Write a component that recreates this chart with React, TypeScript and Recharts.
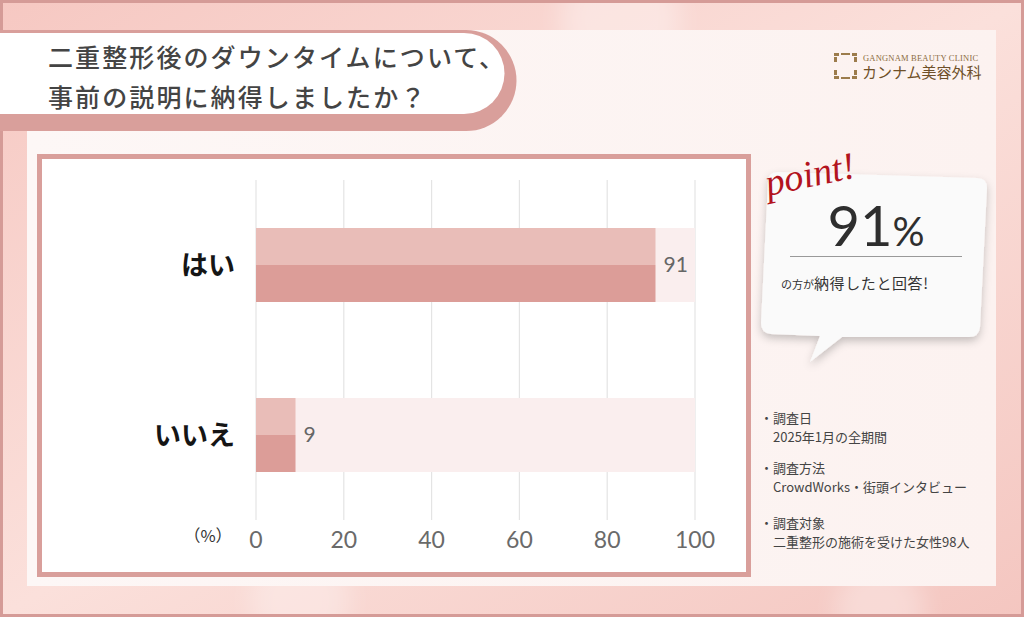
import React from 'react';
import { BarChart, Bar, XAxis, YAxis, CartesianGrid, LabelList } from 'recharts';

const categories = ['はい', 'いいえ'];
const values = [91, 9];
const xTicks = [0, 20, 40, 60, 80, 100];
const titleLines = ['二重整形後のダウンタイムについて、', '事前の説明に納得しましたか？'];
const notes = [
  ['調査日', '2025年1月の全期間'],
  ['調査方法', 'CrowdWorks・街頭インタビュー'],
  ['調査対象', '二重整形の施術を受けた女性98人'],
];
const pointValue = '91';
const pointText = '納得したと回答!';

const data = categories.map((c, i) => ({ name: c, value: values[i] }));

const JP = '"Noto Sans CJK JP", "Noto Sans", sans-serif';
const NUM = 'Lato, "Noto Sans", sans-serif';

const TwoTone = (props: any) => {
  const { x, y, width, height } = props;
  if (!width || width <= 0) return null;
  const h = height / 2;
  return (
    <g>
      <rect x={x} y={y} width={width} height={h} fill="#e9bdb8" />
      <rect x={x} y={y + h} width={width} height={height - h} fill="#dc9d98" />
    </g>
  );
};

const YTick = (props: any) => {
  const { x, y, payload } = props;
  return (
    <text x={x - 13} y={y + 10} textAnchor="end" fontSize={27} fontWeight={700} fill="#151515" fontFamily={JP}>
      {payload.value}
    </text>
  );
};

const XTick = (props: any) => {
  const { x, y, payload } = props;
  return (
    <text x={x} y={y + 20} textAnchor="middle" fontSize={23} fill="#6a6a6a" fontFamily={NUM}>
      {payload.value}
    </text>
  );
};

const Background = () => (
  <svg width={1024} height={617} style={{ position: 'absolute', left: 0, top: 0 }}>
    <defs>
      <linearGradient id="bg" x1="0" y1="0" x2="1" y2="1">
        <stop offset="0" stopColor="#f6c8c2" />
        <stop offset="0.5" stopColor="#fbe0db" />
        <stop offset="1" stopColor="#f4c6c0" />
      </linearGradient>
      <linearGradient id="panel" x1="0" y1="0" x2="1" y2="0">
        <stop offset="0" stopColor="#fdf7f6" />
        <stop offset="1" stopColor="#fcf2f0" />
      </linearGradient>
      <filter id="sh" x="-20%" y="-20%" width="140%" height="150%">
        <feDropShadow dx="0" dy="4" stdDeviation="4" floodColor="#000" floodOpacity="0.22" />
      </filter>
      <filter id="blur" x="-50%" y="-50%" width="200%" height="200%">
        <feGaussianBlur stdDeviation="12" />
      </filter>
    </defs>
    <rect x={0} y={0} width={1024} height={617} fill="url(#bg)" />
    <g filter="url(#blur)">
      <circle cx={620} cy={20} r={60} fill="#fff" opacity={0.35} />
      <circle cx={300} cy={600} r={50} fill="#fff" opacity={0.3} />
      <circle cx={880} cy={610} r={45} fill="#fff" opacity={0.3} />
    </g>
    <rect x={27} y={30} width={969} height={556} fill="url(#panel)" />
    <rect x={1.5} y={1.5} width={1021} height={614} fill="none" stroke="#d59b97" strokeWidth={3} />

    {/* title */}
    <path d="M -5 30 L 466 30 A 50.5 50.5 0 0 1 466 131 L -5 131 Z" fill="#d99f9b" />
    <path d="M -5 33 L 464 33 A 40.5 40.5 0 0 1 464 114 L -5 114 Z" fill="#ffffff" />
    {titleLines.map((t, i) => (
      <text key={i} x={48} y={67 + i * 40} fontSize={25} letterSpacing={2.1} fill="#444" fontFamily={JP} fontWeight={500}>
        {t}
      </text>
    ))}

    {/* logo */}
    <g fill="#9c7c4c">
      <rect x={834} y={53} width={5} height={3} />
      <rect x={852} y={53} width={5} height={3} />
      <rect x={834} y={76} width={5} height={3} />
      <rect x={852} y={76} width={5} height={3} />
      <rect x={834} y={57} width={3} height={5} />
      <rect x={854} y={57} width={3} height={5} />
      <rect x={834} y={70} width={3} height={5} />
      <rect x={854} y={70} width={3} height={5} />
      <rect x={841} y={53} width={9} height={2} />
      <rect x={841} y={77} width={9} height={2} />
    </g>
    <text x={863} y={61} fontSize={8.5} fill="#8c6d3f" fontFamily='"Liberation Serif", serif' letterSpacing={0.2}>GANGNAM BEAUTY CLINIC</text>
    <text x={862} y={78} fontSize={15} fill="#6f5028" fontFamily='"Noto Sans CJK JP", serif'>カンナム美容外科</text>

    {/* chart box */}
    <rect x={39.5} y={156.5} width={709} height={418} fill="#ffffff" stroke="#d99f9b" strokeWidth={5} />
    <text x={208} y={542} textAnchor="middle" fontSize={16.5} fill="#333" fontFamily={JP}>（%）</text>

    {/* point bubble */}
    <path
      d="M 778 172 L 977 178 Q 987 178 987 188 L 980 327 Q 979 337 969 337 L 842 337 L 810 362 L 820 336 L 771 334 Q 761 333 761 323 L 768 182 Q 768 172 778 172 Z"
      fill="#fafafa"
      filter="url(#sh)"
    />
    <text x={768} y={196} fontSize={38} fontStyle="italic" fill="#b3141e" fontFamily='"Liberation Serif", serif' transform="rotate(-12 768 196)">point!</text>
    <text x={876} y={246} textAnchor="middle" fill="#2e2e2e" fontFamily={NUM} fontWeight={400}>
      <tspan fontSize={56}>{pointValue}</tspan>
      <tspan fontSize={40}>%</tspan>
    </text>
    <line x1={790} y1={256.5} x2={962} y2={256.5} stroke="#999" strokeWidth={1} />
    <text x={781} y={289} fill="#333" fontFamily={JP}>
      <tspan fontSize={11}>の方が</tspan>
      <tspan fontSize={15} letterSpacing={0.6}>{pointText}</tspan>
    </text>

    {/* notes */}
    {notes.map((n, i) => {
      const y0 = [423, 473, 528][i];
      return (
        <g key={i} fontFamily={JP} fontSize={13} fill="#444">
          <text x={760} y={y0}>・{n[0]}</text>
          <text x={773} y={y0 + 18.5}>{n[1]}</text>
        </g>
      );
    })}
  </svg>
);

export default function App() {
  return (
    <div style={{ position: 'absolute', left: 0, top: 0, width: 1024, height: 617, overflow: 'hidden' }}>
      <Background />
      <div style={{ position: 'absolute', left: 0, top: 0 }}>
        <BarChart
          width={1024}
          height={617}
          data={data}
          layout="vertical"
          margin={{ top: 180, right: 329, bottom: 67, left: 196 }}
        >
          <CartesianGrid horizontal={false} vertical stroke="#e4e4e4" strokeWidth={1.2} />
          <XAxis
            type="number"
            domain={[0, 100]}
            ticks={xTicks}
            axisLine={false}
            tickLine={false}
            height={30}
            tick={<XTick />}
            interval={0}
          />
          <YAxis
            type="category"
            dataKey="name"
            width={60}
            axisLine={false}
            tickLine={false}
            tick={<YTick />}
          />
          <Bar
            dataKey="value"
            barSize={74}
            isAnimationActive={false}
            background={{ fill: '#faeeee' }}
            shape={<TwoTone />}
          >
            <LabelList dataKey="value" position="right" offset={8} fill="#666" fontSize={21} fontFamily={NUM} />
          </Bar>
        </BarChart>
      </div>
    </div>
  );
}
